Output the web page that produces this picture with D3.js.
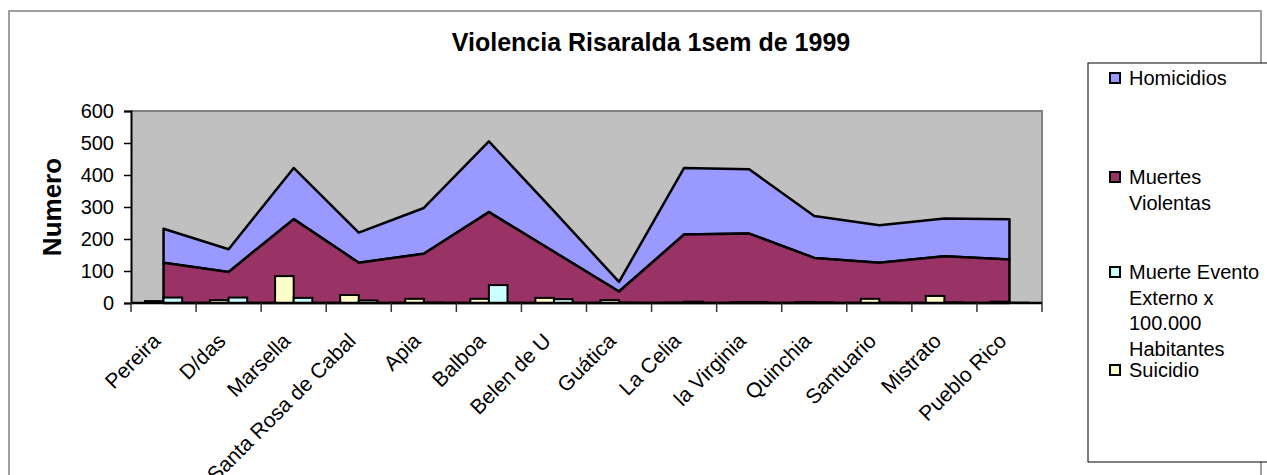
<!DOCTYPE html>
<html>
<head>
<meta charset="utf-8">
<script src="https://cdn.jsdelivr.net/npm/d3@7"></script>
<style>
  body { margin: 0; background: #fff; }
  text { font-family: "Liberation Sans", Arial, sans-serif; }
</style>
</head>
<body>
<div id="chart"></div>
<script>
// data
var municipios = ["Pereira", "D/das", "Marsella", "Santa Rosa de Cabal", "Apia", "Balboa",
  "Belen de U", "Guática", "La Celia", "la Virginia", "Quinchia", "Santuario", "Mistrato", "Pueblo Rico"];
var muertesViolentas = [126, 97, 262, 126, 154, 284, 160, 36, 214, 217, 141, 126, 146, 136];
var homicidios = [106, 71, 160, 94, 143, 221, 127, 30, 208, 201, 131, 117, 118, 126];
var suicidio = [6, 9, 84, 25, 13, 13, 16, 9, 1, 3, 3, 13, 22, 4];
var eventoExterno = [17, 17, 16, 8, 1, 56, 12, 1, 4, 3, 2, 1, 2, 1];
var yTicks = [0, 100, 200, 300, 400, 500, 600];

var legendItems = [
  {lines: ["Homicidios"], color: "#9999FF", y: 78},
  {lines: ["Muertes", "Violentas"], color: "#993366", y: 177},
  {lines: ["Muerte Evento", "Externo x", "100.000", "Habitantes"], color: "#CCFFFF", y: 272},
  {lines: ["Suicidio"], color: "#FFFFCC", y: 370}
];

var W = 1267, H = 475;
var plot = {left: 131, right: 1042, top: 111, bottom: 303};

var svg = d3.select("#chart").append("svg")
    .attr("width", W)
    .attr("height", H);

// outer chart border
svg.append("rect")
    .attr("x", 9).attr("y", 11)
    .attr("width", 1252).attr("height", 480)
    .attr("fill", "#fff")
    .attr("stroke", "#808080")
    .attr("stroke-width", 1.5);

// title
svg.append("text")
    .attr("x", 651).attr("y", 51)
    .attr("text-anchor", "middle")
    .attr("font-size", 25)
    .attr("font-weight", "bold")
    .text("Violencia Risaralda 1sem de 1999");

// scales
var x = d3.scaleBand()
    .domain(municipios)
    .range([plot.left, plot.right]);
var y = d3.scaleLinear()
    .domain([0, 600])
    .range([plot.bottom, plot.top]);

// plot area
svg.append("rect")
    .attr("x", plot.left).attr("y", plot.top)
    .attr("width", plot.right - plot.left)
    .attr("height", plot.bottom - plot.top)
    .attr("fill", "#C0C0C0");
svg.append("path")
    .attr("d", "M" + plot.left + "," + plot.top + "H" + plot.right + "V" + plot.bottom)
    .attr("fill", "none")
    .attr("stroke", "#808080")
    .attr("stroke-width", 2);

// stacked areas
var table = municipios.map(function(m, i) {
  return {name: m, muertes: muertesViolentas[i], homicidios: homicidios[i]};
});
var series = d3.stack().keys(["muertes", "homicidios"])(table);
var areaColors = {muertes: "#993366", homicidios: "#9999FF"};

var area = d3.area()
    .x(function(d) { return x(d.data.name) + x.bandwidth() / 2; })
    .y0(function(d) { return y(d[0]); })
    .y1(function(d) { return y(d[1]); });

svg.selectAll("path.area")
    .data(series.slice().reverse())
    .enter().append("path")
    .attr("class", "area")
    .attr("d", area)
    .attr("fill", function(s) { return areaColors[s.key]; })
    .attr("stroke", "#000")
    .attr("stroke-width", 2.5)
    .attr("stroke-linejoin", "round");

// columns: suicidio (left) and evento externo (right)
var groupW = x.bandwidth() * 2 / 3.5;
var xs = d3.scaleBand()
    .domain(["suicidio", "evento"])
    .range([0, groupW]);
var barData = [];
municipios.forEach(function(m, i) {
  barData.push({name: m, key: "suicidio", value: suicidio[i], color: "#FFFFCC"});
  barData.push({name: m, key: "evento", value: eventoExterno[i], color: "#CCFFFF"});
});
svg.selectAll("rect.bar")
    .data(barData)
    .enter().append("rect")
    .attr("class", "bar")
    .attr("x", function(d) { return x(d.name) + (x.bandwidth() - groupW) / 2 + xs(d.key); })
    .attr("y", function(d) { return y(d.value); })
    .attr("width", xs.bandwidth())
    .attr("height", function(d) { return y(0) - y(d.value); })
    .attr("fill", function(d) { return d.color; })
    .attr("stroke", "#000")
    .attr("stroke-width", 2);

// y axis
var yAxis = svg.append("g")
    .attr("transform", "translate(" + plot.left + ",0)")
    .call(d3.axisLeft(y).tickValues(yTicks).tickSize(7).tickPadding(10));
yAxis.select(".domain").attr("stroke", "#000").attr("stroke-width", 2);
yAxis.selectAll(".tick line").attr("stroke", "#000").attr("stroke-width", 1.5);
yAxis.selectAll(".tick text")
    .attr("font-size", 20)
    .attr("font-family", "Liberation Sans, Arial, sans-serif")
    .attr("fill", "#000");

// x axis: ticks on category boundaries
var xAxisG = svg.append("g");
xAxisG.append("line")
    .attr("x1", plot.left).attr("x2", plot.right)
    .attr("y1", plot.bottom).attr("y2", plot.bottom)
    .attr("stroke", "#000")
    .attr("stroke-width", 2.5);
var bounds = municipios.map(function(m) { return x(m); }).concat([plot.right]);
xAxisG.selectAll("line.tick")
    .data(bounds)
    .enter().append("line")
    .attr("class", "tick")
    .attr("x1", function(d) { return d; }).attr("x2", function(d) { return d; })
    .attr("y1", plot.bottom).attr("y2", plot.bottom + 9)
    .attr("stroke", "#333")
    .attr("stroke-width", 1.5);
xAxisG.selectAll("text")
    .data(municipios)
    .enter().append("text")
    .attr("text-anchor", "end")
    .attr("font-size", 21)
    .attr("transform", function(d) {
      return "translate(" + (x(d) + x.bandwidth() / 2 - 7) + "," + (plot.bottom + 34) + ") rotate(-45)";
    })
    .attr("dy", "0.35em")
    .text(function(d) { return d; });

// y label
svg.append("text")
    .attr("transform", "translate(61,207) rotate(-90)")
    .attr("text-anchor", "middle")
    .attr("font-size", 26)
    .attr("font-weight", "bold")
    .text("Numero");

// legend
var legend = svg.append("g");
legend.append("rect")
    .attr("x", 1088).attr("y", 63)
    .attr("width", 200).attr("height", 399)
    .attr("fill", "#fff")
    .attr("stroke", "#000")
    .attr("stroke-width", 1);
legendItems.forEach(function(item) {
  legend.append("rect")
      .attr("x", 1110).attr("y", item.y - 5)
      .attr("width", 10).attr("height", 10)
      .attr("fill", item.color)
      .attr("stroke", "#000")
      .attr("stroke-width", 2);
  item.lines.forEach(function(line, j) {
    legend.append("text")
        .attr("x", 1129)
        .attr("y", item.y + j * 25.5)
        .attr("dy", "0.35em")
        .attr("font-size", 20)
        .text(line);
  });
});
</script>
</body>
</html>
